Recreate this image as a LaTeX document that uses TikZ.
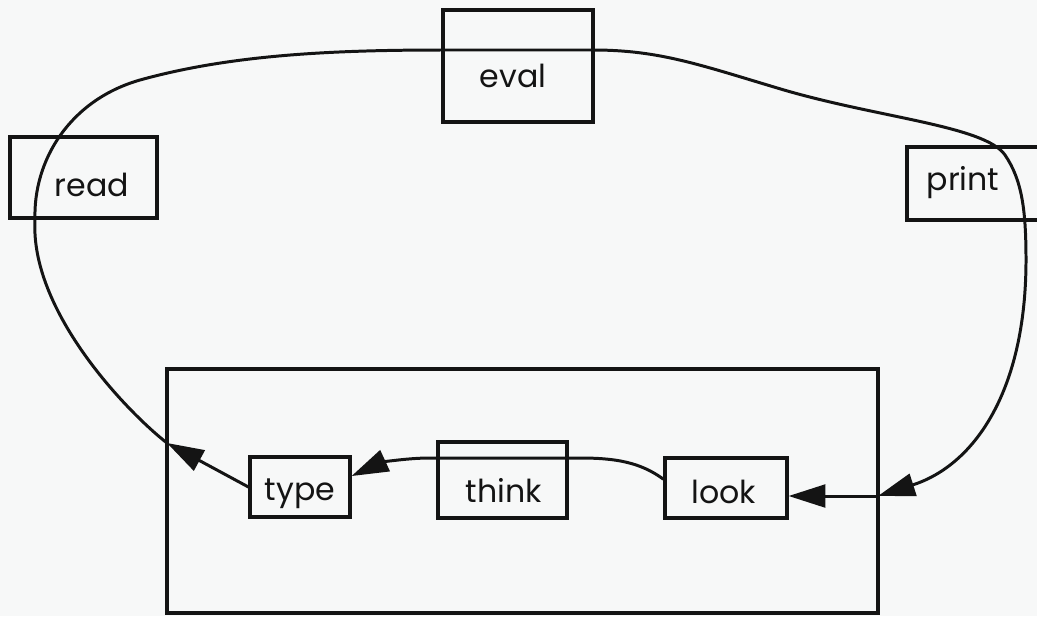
\documentclass[tikz,border=0pt]{standalone}
\usepackage{fontspec}
\setmainfont{Poppins}
\usetikzlibrary{arrows.meta}
\definecolor{paper}{RGB}{247,248,248}
\definecolor{ink}{RGB}{20,20,20}
\tikzset{
  box/.style={draw=ink, line width=1.8pt, inner sep=0pt},
  lbl/.style={anchor=base, inner sep=0pt, text=ink, font=\fontsize{18}{20}\selectfont},
  conn/.style={draw=ink, line width=1.7pt},
  tip/.style={-{Triangle[length=21pt,width=13pt]}},
}
\begin{document}
\begin{tikzpicture}[x=0.02cm, y=-0.02cm]
  % page area
  \path[use as bounding box, fill=paper] (0,0) rectangle (1037,616);
  \clip (0,0) rectangle (1037,616);

  % outer loop boxes
  \node[box, minimum width=3cm,    minimum height=2.24cm] (eval)  at (518,66)     {};
  \node[box, minimum width=2.94cm, minimum height=1.62cm] (read)  at (83.5,177.5) {};
  \node[box, minimum width=2.76cm, minimum height=1.46cm] (print) at (976,183.5)  {};
  \node[lbl] (evaltxt)  at (513,87)  {eval};
  \node[lbl] (readtxt)  at (92,196)  {read};
  \node[lbl] (printtxt) at (963,190) {print};

  % inner cluster
  \node[box, minimum width=14.22cm, minimum height=4.88cm] (cluster) at (522.5,491) {};
  \node[box, minimum width=2.58cm, minimum height=1.52cm] (think) at (502.5,480) {};
  \node[box, minimum width=2cm,    minimum height=1.2cm]  (type)  at (300,487)   {};
  \node[box, minimum width=2.44cm, minimum height=1.2cm]  (look)  at (726,488)   {};
  \node[lbl] (thinktxt) at (504,502) {think};
  \node[lbl] (typetxt)  at (300,500) {type};
  \node[lbl] (looktxt)  at (724,503) {look};

  % points where the loop crosses the cluster border
  \coordinate (cl) at (167,443);
  \coordinate (cr) at (878,496);

  % type leaves the cluster
  \draw[conn, tip] (type.west) -- (cl);

  % the big loop: read, eval, print and back into the cluster
  \draw[conn, tip] (cl)
      .. controls (125,410) and (30,310) .. (35,220)
      .. controls (33,160) and (70,100) .. (140,80)
      .. controls (230,55) and (330,50) .. (443,50)
      -- (593,50)
      .. controls (660,50) and (700,65) .. (784,90)
      .. controls (880,118) and (985,126) .. (1005,155)
      .. controls (1022,180) and (1026,210) .. (1026,260)
      .. controls (1026,390) and (975,465) .. (cr);

  % into look
  \draw[conn, tip] (cr) -- (cr -| look.east);

  % look through think to type
  \draw[conn, tip] (look.172)
      .. controls (640,462) and (615,458) .. (580,458)
      -- (430,458)
      .. controls (405,458) and (380,463) .. (type.12);
\end{tikzpicture}
\end{document}
